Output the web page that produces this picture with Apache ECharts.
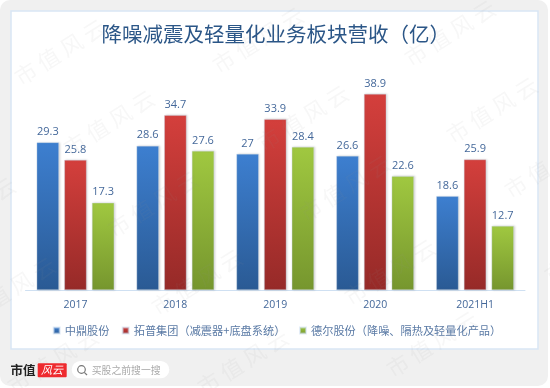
<!DOCTYPE html>
<html><head><meta charset="utf-8">
<style>html,body{margin:0;padding:0;background:#fff}#c{width:550px;height:388px}</style>
<script src="https://cdn.jsdelivr.net/npm/echarts@6/dist/echarts.min.js"></script>
</head><body><div id="c"></div>
<script>
const categories = ['2017','2018','2019','2020','2021H1'];
const zhongding = [29.3,28.6,27,26.6,18.6];
const tuopu = [25.8,34.7,33.9,38.9,25.9];
const deer = [17.3,27.6,28.4,22.6,12.7];
const seriesNames = ['中鼎股份','拓普集团（减震器+底盘系统）','德尔股份（降噪、隔热及轻量化产品）'];
const titleText = '降噪减震及轻量化业务板块营收（亿）';
const legendLefts = [52.7,121.7,299];
const watermarkSpots = [[60,52],[109,123],[258,40],[450,33],[492,110],[303,118],[345,188],[550,165],[390,272],[432,344],[590,250],[153,204],[197,282],[10,290],[-30,210],[53,361],[243,362]];
const FONT = '"Noto Sans CJK SC","Noto Sans",sans-serif';
const chart = echarts.init(document.getElementById('c'),null,{renderer:'canvas'});
function grad(top,bottom){return new echarts.graphic.LinearGradient(0,0,0,1,[{offset:0,color:top},{offset:1,color:bottom}]);}
function bar(name,data,top,bottom){
  return {name,type:'bar',data,barWidth:22.3,barGap:'24%',
    itemStyle:{color:grad(top,bottom),borderColor:'rgba(205,222,240,0.55)',borderWidth:0.6,shadowColor:'rgba(120,120,120,0.3)',shadowBlur:2,shadowOffsetX:1,shadowOffsetY:0},
    label:{show:true,position:'top',distance:5,color:'#44689a',fontSize:11,fontFamily:'"Open Sans",sans-serif'},z:3};
}
chart.setOption({
  animation:false,
  backgroundColor:'#fff',
  title:{text:titleText,left:101.5,top:22,padding:0,
    textStyle:{fontSize:20.5,fontWeight:'normal',color:'#2b5687',fontFamily:FONT,lineHeight:24}},
  legend:seriesNames.map((n,i)=>({left:legendLefts[i],top:323.5,padding:0,itemWidth:6,itemHeight:6,icon:'rect',data:[n],
    textStyle:{fontSize:11.2,color:'#5a7aa5',fontFamily:FONT,lineHeight:14}})),
  grid:{left:25.5,right:25,top:88.4,bottom:98},
  xAxis:{type:'category',data:categories,
    axisLine:{lineStyle:{color:'#cfe0f2',width:1}},axisTick:{show:false},
    axisLabel:{margin:10,color:'#44689a',fontSize:10.5,fontFamily:'"Open Sans",sans-serif'}},
  yAxis:{type:'value',min:0,max:40,show:false,splitLine:{show:false}},
  series:[bar(seriesNames[0],zhongding,'#3d7fd0','#2a5a94'),bar(seriesNames[1],tuopu,'#d43f3c','#962a28'),bar(seriesNames[2],deer,'#a0c840','#76962e')],
  graphic:[
    {type:'rect',silent:true,z:-20,shape:{x:0,y:0,width:548,height:386,r:10},style:{fill:'#f0f0f0'}},
    {type:'rect',silent:true,z:-19,shape:{x:11,y:11,width:527,height:338},style:{fill:'#fff',stroke:'#d9e6f5',lineWidth:1.5}},
    ...watermarkSpots.map(([x,y])=>({type:'text',silent:true,z:10,x,y,rotation:Math.PI/5.6,
      style:{text:'市 值 风 云',fill:'rgba(150,150,150,0.075)',font:'22px "Noto Sans CJK SC"',align:'center',verticalAlign:'middle'}})),
    {type:'text',silent:true,z:12,x:10.5,y:370.5,style:{text:'市值',fill:'#222',font:'bold 12.5px "Noto Sans CJK SC"',verticalAlign:'middle'}},
    {type:'rect',silent:true,z:12,shape:{x:37.7,y:363.3,width:29,height:14,r:1},style:{fill:'#ee2a2e'}},
    {type:'text',silent:true,z:13,x:52,y:370,style:{text:'风云',fill:'#fff',font:'italic 11px "Noto Sans CJK SC"',align:'center',verticalAlign:'middle'}},
    {type:'rect',silent:true,z:12,shape:{x:71.7,y:361,width:97.6,height:17.3,r:8.6},style:{fill:'#fff'}},
    {type:'circle',silent:true,z:13,shape:{cx:81.5,cy:369.5,r:3.8},style:{fill:'none',stroke:'#777',lineWidth:1.2}},
    {type:'line',silent:true,z:13,shape:{x1:84.3,y1:372.3,x2:87,y2:375},style:{stroke:'#777',lineWidth:1.2}},
    {type:'text',silent:true,z:13,x:91.7,y:370,style:{text:'买股之前搜一搜',fill:'#aaa',font:'9.85px "Noto Sans CJK SC"',verticalAlign:'middle'}}
  ]
});
</script></body></html>
